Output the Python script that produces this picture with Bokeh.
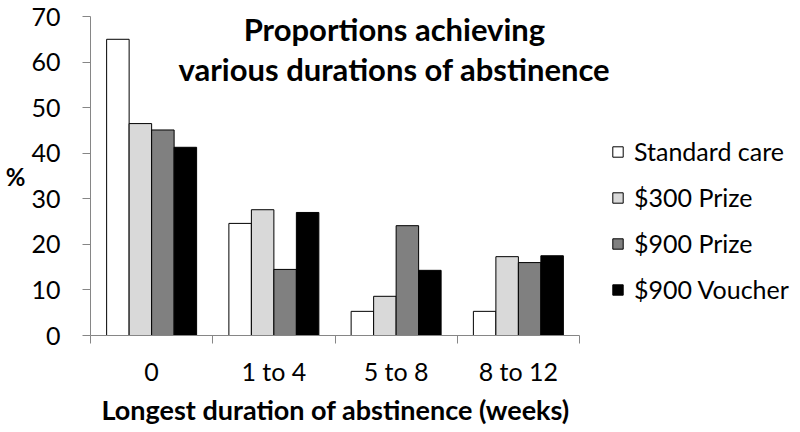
from bokeh.plotting import figure
from bokeh.models import (Range1d, FixedTicker, Legend, LegendItem, Label,
                          ColumnDataSource, Title)
from bokeh.embed import file_html
from bokeh.resources import INLINE

categories = ["0", "1 to 4", "5 to 8", "8 to 12"]
series_names = ["Standard care", "$300 Prize", "$900 Prize", "$900 Voucher"]
standard_care = [65.0, 24.6, 5.3, 5.3]
prize_300 = [46.5, 27.6, 8.6, 17.3]
prize_900 = [45.1, 14.5, 24.1, 16.0]
voucher_900 = [41.3, 27.0, 14.3, 17.5]
y_ticks = [0, 10, 20, 30, 40, 50, 60, 70]

series_values = [standard_care, prize_300, prize_900, voucher_900]
colors = ["#ffffff", "#d9d9d9", "#808080", "#000000"]

FONT = "Lato"
n_cat = len(categories)
n_ser = len(series_values)
bar_w = 0.184
group_w = bar_w * n_ser

AXIS_PX = 489      # width of the category area in pixels
FRAME_PX = 526     # frame is a bit wider so the title is not clipped
x_end = n_cat * FRAME_PX / AXIS_PX

p = figure(frame_width=FRAME_PX, frame_height=319, output_backend="svg",
           toolbar_location=None,
           x_range=Range1d(0, x_end), y_range=Range1d(0, 70),
           min_border_left=90, min_border_right=0, min_border_top=16,
           min_border_bottom=97)
p.outline_line_color = None
p.xgrid.visible = False
p.ygrid.visible = False
p.background_fill_color = "white"
p.border_fill_color = "white"

items = []
for k, (name, vals, col) in enumerate(zip(series_names, series_values, colors)):
    xs = [i + 0.5 - group_w / 2 + bar_w * (k + 0.5) for i in range(n_cat)]
    src = ColumnDataSource(dict(x=xs, top=vals))
    r = p.vbar(x="x", top="top", width=bar_w, bottom=0, source=src,
               fill_color=col, line_color="black", line_width=1)
    items.append(LegendItem(label=name, renderers=[r]))

# x axis: labels at category centers, ticks at boundaries
xa = p.xaxis[0]
xa.bounds = (0, n_cat)
xa.ticker = FixedTicker(ticks=[i + 0.5 for i in range(n_cat)],
                        minor_ticks=list(range(n_cat + 1)))
xa.major_label_overrides = {i + 0.5: c for i, c in enumerate(categories)}
xa.major_tick_out = 0
xa.major_tick_in = 0
xa.minor_tick_out = 8
xa.minor_tick_in = 0
xa.minor_tick_line_color = "#868686"
xa.axis_line_color = "#868686"
xa.major_label_standoff = 12
xa.major_label_text_font = FONT
xa.major_label_text_font_size = "25px"
xa.major_label_text_color = "black"

p.add_layout(Title(text="Longest duration of abstinence (weeks)", align="left",
                   offset=11, standoff=4,
                   text_font=FONT, text_font_style="bold",
                   text_font_size="27px", text_color="black"), "below")

ya = p.yaxis[0]
ya.ticker = FixedTicker(ticks=y_ticks)
ya.minor_tick_line_color = None
ya.major_tick_out = 8
ya.major_tick_in = 0
ya.major_tick_line_color = "#868686"
ya.axis_line_color = "#868686"
ya.major_label_standoff = 22
ya.major_label_text_font = FONT
ya.major_label_text_font_size = "25px"
ya.major_label_text_color = "black"
ya.axis_label = "%"
ya.axis_label_text_font = FONT
ya.axis_label_text_font_style = "bold"
ya.axis_label_text_font_size = "24px"
ya.axis_label_text_color = "black"
ya.axis_label_standoff = 3
try:
    ya.axis_label_orientation = "horizontal"
except Exception:
    pass

p.add_layout(Label(x=2.486, y=67.15, text="Proportions achieving", text_font=FONT,
                   text_font_style="bold", text_font_size="31px",
                   text_color="black",
                   text_align="center", text_baseline="middle"))
p.add_layout(Label(x=2.486, y=58.4, text="various durations of abstinence",
                   text_font=FONT, text_font_style="bold", text_font_size="31px",
                   text_color="black",
                   text_align="center", text_baseline="middle"))

legend = Legend(items=items, location=(-5, 31), orientation="vertical",
                glyph_width=13, glyph_height=13, label_standoff=10,
                label_height=30, spacing=16, padding=0, margin=0,
                label_text_font=FONT, label_text_font_size="25px",
                label_text_color="black",
                border_line_color=None, background_fill_alpha=0)
p.add_layout(legend, "right")

open("out.html", "w").write(file_html(p, INLINE))
